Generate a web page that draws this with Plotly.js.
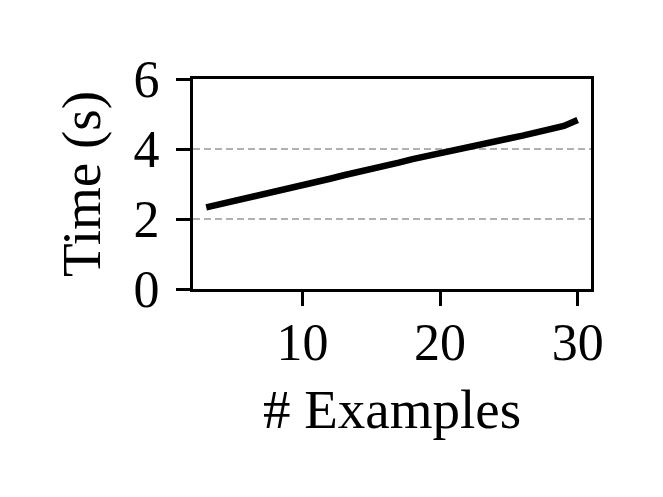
<!DOCTYPE html>
<html>
<head>
<meta charset="utf-8">
<script src="https://cdn.plot.ly/plotly-3.0.1.min.js"></script>
<style>html,body{margin:0;padding:0;background:#fff;}#chart{width:663px;height:497px;}</style>
</head>
<body>
<div id="chart"></div>
<script>
const numExamples = [3,4,5,6,7,8,9,10,11,12,13,14,15,16,17,18,19,20,21,22,23,24,25,26,27,28,29,30];
const timeSeconds = [2.33,2.42,2.48,2.58,2.66,2.76,2.84,2.95,3.06,3.15,3.25,3.33,3.42,3.52,3.61,3.71,3.80,3.89,3.97,4.04,4.12,4.21,4.30,4.38,4.46,4.56,4.66,4.83];
const xTicks = [10,20,30];
const yTicks = [0,2,4,6];
const xTitle = "# Examples";
const yTitle = "Time (s)";

const font = "Liberation Serif, DejaVu Serif, serif";
const trace = {
  x: numExamples, y: timeSeconds, type: "scatter", mode: "lines",
  line: {color: "#000000", width: 6.5}, hoverinfo: "skip", showlegend: false
};
const layout = {
  width: 663, height: 497,
  margin: {l: 193, r: 72, t: 79, b: 208, pad: 0},
  paper_bgcolor: "#ffffff", plot_bgcolor: "#ffffff",
  font: {family: font, size: 52, color: "#000000"},
  xaxis: {
    range: [2.04, 30.97], tickvals: xTicks, ticktext: xTicks.map(String),
    showgrid: false, zeroline: false, showline: true, linecolor: "#000", linewidth: 3, mirror: true,
    ticks: "outside", ticklen: 14, tickwidth: 3, tickcolor: "#000",
    tickfont: {family: font, size: 52}, ticklabelstandoff: -8,
    title: {text: xTitle, font: {family: font, size: 55}, standoff: 20}
  },
  yaxis: {
    range: [0, 6], tickvals: yTicks, ticktext: yTicks.map(String),
    showgrid: true, gridcolor: "#b0b0b0", gridwidth: 1.2, griddash: "7px,4px",
    zeroline: false, showline: true, linecolor: "#000", linewidth: 3, mirror: true,
    ticks: "outside", ticklen: 14, tickwidth: 3, tickcolor: "#000",
    tickfont: {family: font, size: 52}, ticklabelstandoff: 6,
    title: {text: yTitle, font: {family: font, size: 55}, standoff: 16}
  }
};
Plotly.newPlot("chart", [trace], layout, {staticPlot: true, displayModeBar: false});
</script>
</body>
</html>
